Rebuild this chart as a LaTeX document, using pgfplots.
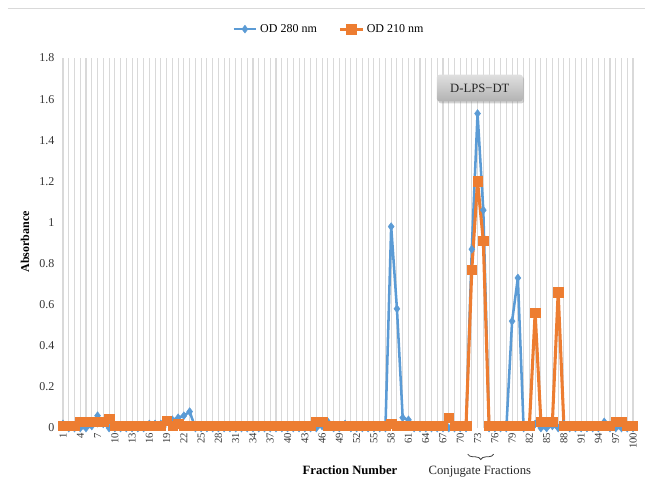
\documentclass[border=0pt]{standalone}
\usepackage{fontspec}
\setmainfont{Liberation Serif}
\usepackage{pgfplots}
\usepackage{pgfplotstable}
\pgfplotsset{compat=1.18}
\usetikzlibrary{decorations.pathreplacing,shadows}
\definecolor{od280}{HTML}{5B9BD5}
\definecolor{od210}{HTML}{ED7D31}
\definecolor{gridc}{HTML}{D9D9D9}

% fraction, OD 280 nm, OD 210 nm
\pgfplotstableread{
f a b
1 0.02 0.01
2 0 0.01
3 0 0.01
4 0 0.03
5 0 0.03
6 0.01 0.03
7 0.06 0.03
8 0.02 0.03
9 0 0.045
10 0 0.01
11 0 0.01
12 0 0.01
13 0 0.01
14 0 0.01
15 0 0.01
16 0.02 0.01
17 0.02 0.01
18 0.02 0.01
19 0.03 0.035
20 0.04 0.01
21 0.05 0.02
22 0.06 0.01
23 0.08 0.01
24 0 0.01
25 0 0.01
26 0 0.01
27 0 0.01
28 0 0.01
29 0 0.01
30 0 0.01
31 0 0.01
32 0 0.01
33 0 0.01
34 0 0.01
35 0 0.01
36 0 0.01
37 0 0.01
38 0 0.01
39 0 0.01
40 0 0.01
41 0 0.01
42 0 0.01
43 0 0.01
44 0 0.01
45 0 0.03
46 0.01 0.03
47 0.03 0.01
48 0 0.01
49 0 0.01
50 0.02 0.01
51 0 0.01
52 0 0.01
53 0 0.01
54 0 0.01
55 0 0.01
56 0 0.01
57 0 0.01
58 0.98 0.02
59 0.58 0.01
60 0.05 0.01
61 0.04 0.01
62 0 0.01
63 0 0.01
64 0 0.01
65 0 0.01
66 0 0.01
67 0 0.01
68 0 0.05
69 0 0.01
70 0 0.01
71 0 0.01
72 0.87 0.77
73 1.53 1.20
74 1.06 0.91
75 0 0.01
76 0 0.01
77 0 0.01
78 0 0.01
79 0.52 0.01
80 0.73 0.01
81 0 0.01
82 0.01 0.01
83 0.02 0.56
84 0 0.03
85 0 0.03
86 0.01 0.03
87 0 0.66
88 0.02 0.01
89 0 0.01
90 0 0.01
91 0 0.01
92 0 0.01
93 0 0.01
94 0 0.01
95 0.03 0.01
96 0 0.01
97 0 0.03
98 0 0.03
99 0 0.01
100 0 0.01
}\fractions

\begin{document}
\begin{tikzpicture}
\begin{axis}[
 scale only axis, width=427.5pt, height=277.5pt,
 xmin=1, xmax=100, ymin=0, ymax=1.8, clip=false,
 xtick={1,4,...,100}, minor xtick={1,...,100},
 ytick={0,0.2,0.4,0.6,0.8,1,1.2,1.4,1.6,1.8},
 xmajorgrids, xminorgrids,
 grid style={gridc,line width=0.8pt}, minor grid style={gridc,line width=0.8pt},
 axis line style={draw=none}, tick style={draw=none},
 /pgf/number format/assume math mode=true,
 xticklabel style={rotate=90,anchor=east,font=\fontsize{8}{9}\selectfont,text=black!80},
 yticklabel style={font=\fontsize{9}{10}\selectfont,text=black!80,xshift=-3pt},
 legend style={at={(rel axis cs:0.467,1.078)},anchor=center,draw=none,fill=none,
  legend columns=2,font=\fontsize{9}{10}\selectfont,
  /tikz/every even column/.append style={column sep=14pt}},
]
\path (rel axis cs:-0.1105,-0.154) rectangle (rel axis cs:1.0491,1.1568);
\draw[gridc,line width=0.8pt] (rel axis cs:-0.0965,1.135) -- (rel axis cs:1.021,1.135);
\addplot[od280,line width=1.9pt,mark=diamond*,mark size=3pt,mark options={solid,line width=0.3pt}]
 table[x=f,y=a]{\fractions};
\addlegendentry{OD 280 nm}
\addplot[od210,line width=2.3pt,mark=square*,mark size=3.5pt,mark options={solid,line width=0.3pt}]
 table[x=f,y=b]{\fractions};
\addlegendentry{OD 210 nm}
\node[rounded corners=2pt,top color=gray!25,bottom color=gray!60,
 drop shadow={shadow xshift=1pt,shadow yshift=-1.5pt,opacity=0.35},
 minimum width=64.5pt,minimum height=20pt,font=\fontsize{9.5}{10}\selectfont,text=black!85]
 at (axis cs:73.4,1.654) {D-LPS−DT};
\draw[black!75,line width=0.6pt,decorate,decoration={brace,mirror,amplitude=4pt}]
 (axis cs:71.3,-0.127) -- (axis cs:75.8,-0.127);
\node[font=\fontsize{9.5}{10}\selectfont,text=black!85] at (axis cs:73.4,-0.214) {Conjugate Fractions};
\node[font=\bfseries\fontsize{9.5}{10}\selectfont] at (rel axis cs:0.5035,-0.1135) {Fraction Number};
\node[font=\bfseries\fontsize{9}{10}\selectfont,rotate=90] at (rel axis cs:-0.0667,0.503) {Absorbance};
\end{axis}
\end{tikzpicture}
\end{document}
